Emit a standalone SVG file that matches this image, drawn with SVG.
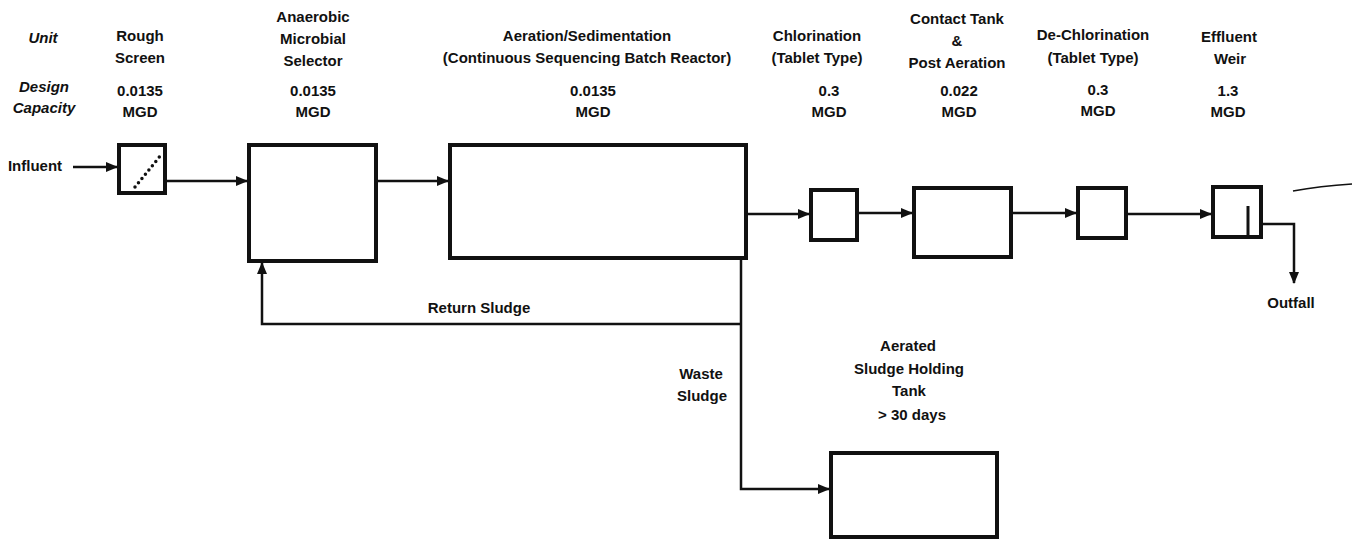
<svg xmlns="http://www.w3.org/2000/svg" width="1355" height="542" viewBox="0 0 1355 542">
<style>
text{font-family:"Liberation Sans",Arial,sans-serif;font-weight:bold;font-size:15px;fill:#111;text-anchor:middle}
.it{font-style:italic}
.box{fill:none;stroke:#111;stroke-width:4}
.ln{fill:none;stroke:#111;stroke-width:2.5}
</style>
<defs>
<marker id="ah" viewBox="0 0 12 10" refX="11" refY="5" markerWidth="12" markerHeight="10" markerUnits="userSpaceOnUse" orient="auto">
<path d="M0,0 L12,5 L0,10 Z" fill="#111"/>
</marker>
</defs>
<rect width="1355" height="542" fill="#fff"/>
<g id="header">
<text class="it" x="43" y="43">Unit</text>
<text class="it" x="44" y="92">Design</text>
<text class="it" x="44" y="113">Capacity</text>
</g>
<g id="rough-screen">
<text x="140" y="41">Rough</text>
<text x="140" y="63">Screen</text>
<text x="140" y="96">0.0135</text>
<text x="140" y="117">MGD</text>
<rect class="box" x="119" y="145" width="46" height="48"/>
<path d="M135,187 L161,155" stroke="#111" stroke-width="3.5" stroke-linecap="round" stroke-dasharray="0 5.5" fill="none"/>
</g>
<g id="anaerobic-selector">
<text x="313" y="22">Anaerobic</text>
<text x="313" y="44">Microbial</text>
<text x="313" y="66">Selector</text>
<text x="313" y="96">0.0135</text>
<text x="313" y="117">MGD</text>
<rect class="box" x="249" y="145" width="127" height="116"/>
</g>
<g id="aeration">
<text x="587" y="41">Aeration/Sedimentation</text>
<text x="587" y="63">(Continuous Sequencing Batch Reactor)</text>
<text x="593" y="96">0.0135</text>
<text x="593" y="117">MGD</text>
<rect class="box" x="450" y="145" width="296" height="113"/>
</g>
<g id="chlorination">
<text x="817" y="41">Chlorination</text>
<text x="817" y="63">(Tablet Type)</text>
<text x="829" y="96">0.3</text>
<text x="829" y="117">MGD</text>
<rect class="box" x="811" y="190" width="46" height="50"/>
</g>
<g id="contact-tank">
<text x="957" y="24">Contact Tank</text>
<text x="957" y="46">&amp;</text>
<text x="957" y="68">Post Aeration</text>
<text x="959" y="96">0.022</text>
<text x="959" y="117">MGD</text>
<rect class="box" x="914" y="188" width="97" height="69"/>
</g>
<g id="dechlorination">
<text x="1093" y="40">De-Chlorination</text>
<text x="1093" y="63">(Tablet Type)</text>
<text x="1098" y="95">0.3</text>
<text x="1098" y="116">MGD</text>
<rect class="box" x="1078" y="188" width="48" height="50"/>
</g>
<g id="effluent-weir">
<text x="1229" y="42">Effluent</text>
<text x="1230" y="64">Weir</text>
<text x="1228" y="96">1.3</text>
<text x="1228" y="117">MGD</text>
<rect class="box" x="1213" y="187" width="48" height="50"/>
<line x1="1248" y1="206" x2="1248" y2="237" stroke="#111" stroke-width="3"/>
</g>
<g id="holding-tank">
<text x="908" y="351">Aerated</text>
<text x="909" y="374">Sludge Holding</text>
<text x="909" y="396">Tank</text>
<text x="912" y="420">&gt; 30 days</text>
<rect class="box" x="831" y="453" width="166" height="84"/>
</g>
<g id="labels">
<text x="35" y="171">Influent</text>
<text x="479" y="313">Return Sludge</text>
<text x="701" y="379">Waste</text>
<text x="702" y="401">Sludge</text>
<text x="1291" y="308">Outfall</text>
</g>
<g id="connectors">
<line class="ln" x1="73" y1="167" x2="117" y2="167" marker-end="url(#ah)"/>
<line class="ln" x1="167" y1="181" x2="247" y2="181" marker-end="url(#ah)"/>
<line class="ln" x1="378" y1="181" x2="448" y2="181" marker-end="url(#ah)"/>
<line class="ln" x1="748" y1="214" x2="809" y2="214" marker-end="url(#ah)"/>
<line class="ln" x1="859" y1="213" x2="912" y2="213" marker-end="url(#ah)"/>
<line class="ln" x1="1013" y1="213" x2="1076" y2="213" marker-end="url(#ah)"/>
<line class="ln" x1="1128" y1="214" x2="1211" y2="214" marker-end="url(#ah)"/>
<path class="ln" d="M1263,224 H1294 V283" marker-end="url(#ah)"/>
<path class="ln" d="M741,324 H262 V263" marker-end="url(#ah)"/>
<path class="ln" d="M741,260 V489 H829" marker-end="url(#ah)"/>
<path d="M1293,191 Q1320,186 1352,184" fill="none" stroke="#111" stroke-width="1.5"/>
</g>
</svg>
